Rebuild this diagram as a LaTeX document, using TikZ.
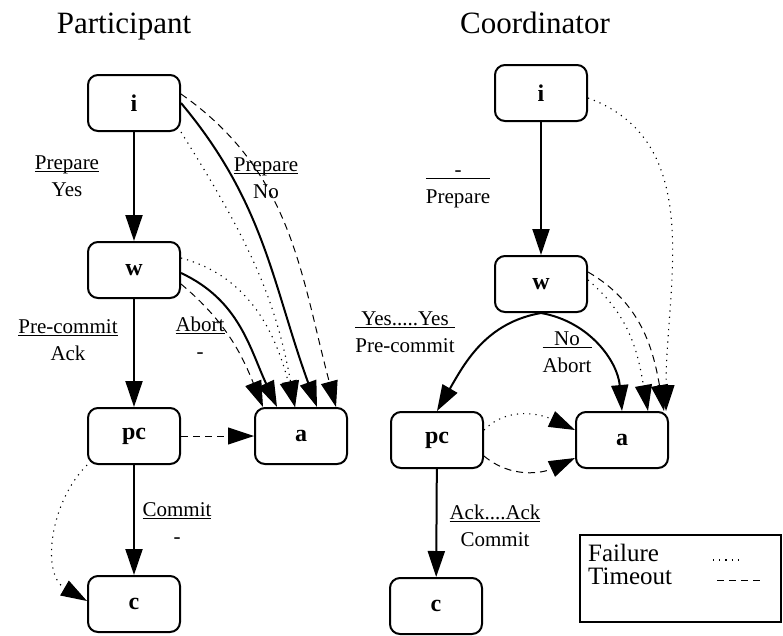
\documentclass[tikz,border=0pt]{standalone}
\usepackage{fontspec}
\setmainfont{Liberation Serif}
\usetikzlibrary{arrows.meta}

\setlength{\arrayrulewidth}{1pt}
% transition label: input over output
\newcommand{\trans}[2]{\begin{tabular}{@{}c@{}}#1\\[-6pt]\hline\rule{0pt}{25pt}#2\end{tabular}}

\tikzset{
  state/.style={draw, line width=2pt, rounded corners=10pt, minimum width=92pt,
    minimum height=56pt, font=\fontsize{24}{28}\selectfont\bfseries},
  move/.style={line width=2pt, ->},
  failure/.style={line width=1.1pt, dash pattern=on 1.2pt off 5pt},
  timeout/.style={line width=1pt, dash pattern=on 7pt off 5pt},
  lbl/.style={font=\fontsize{21}{25}\selectfont, inner sep=0pt},
  title/.style={font=\fontsize{31}{36}\selectfont, inner sep=0pt},
  legend/.style={font=\fontsize{25}{29}\selectfont, inner sep=0pt}
}

\begin{document}
\begin{tikzpicture}[x=1pt, y=1pt, >={Triangle[length=26pt,width=17pt]}]
  \useasboundingbox (0,0) rectangle (783,-635);

  % Titles
  \node[title, anchor=base] (ptitle) at (124,-33) {Participant};
  \node[title, anchor=base] (ctitle) at (535,-33) {Coordinator};

  % Participant states
  \node[state] (Pi)  at (134,-103) {i};
  \node[state] (Pw)  at (134,-270) {w};
  \node[state] (Ppc) at (134,-436) {pc};
  \node[state] (Pa)  at (301,-436) {a};
  \node[state] (Pc)  at (134,-604) {c};

  % Coordinator states
  \node[state] (Ci)  at (541,-93)  {i};
  \node[state] (Cw)  at (541,-284) {w};
  \node[state] (Cpc) at (437,-440) {pc};
  \node[state] (Ca)  at (622,-440) {a};
  \node[state] (Cc)  at (436,-606) {c};

  % Participant transitions
  \draw[move] (Pi) -- (Pw);
  \draw[move] (Pw) -- (Ppc);
  \draw[move] (Ppc) -- (Pc);
  \draw[move] (Pi.east) to[out=-50,in=110] ([xshift=16pt]Pa.north);
  \draw[move] ([yshift=-3pt]Pw.east) to[out=-25,in=115] ([xshift=-24pt]Pa.north);

  \draw[timeout,->] ([yshift=9pt]Pi.east) to[out=-35,in=105] ([xshift=35pt]Pa.north);
  \draw[timeout,->] ([yshift=-14pt]Pw.east) to[out=-40,in=112] ([xshift=-38pt]Pa.north);
  \draw[timeout,->] (Ppc) -- (Pa);

  \draw[failure,->] (Pi.south east) to[out=-58,in=100] ([xshift=-6pt]Pa.north);
  \draw[failure,->] ([yshift=12pt]Pw.east) to[out=-15,in=105] ([xshift=-6pt]Pa.north);
  \draw[failure,->] (Ppc.south west) to[out=225,in=150] ([yshift=3pt]Pc.west);

  % Participant labels
  \node[lbl] (pyes)    at (67,-178)  {\trans{Prepare\hspace{12pt}}{Yes}};
  \node[lbl] (pno)     at (266,-180) {\trans{Prepare\hspace{12pt}}{No}};
  \node[lbl] (pack)    at (68,-342)  {\trans{Pre-commit\hspace{12pt}}{Ack}};
  \node[lbl] (pabort)  at (200,-340) {\trans{Abort}{-}};
  \node[lbl] (pcommit) at (177,-525) {\trans{Commit\hspace{4pt}}{-}};

  % Coordinator transitions
  \draw[move] (Ci) -- (Cw);
  \draw[move] (Cw.south) to[out=190,in=60] (Cpc.north);
  \draw[move] (Cw.south) to[out=-10,in=95] (Ca.north);
  \draw[move] (Cpc) -- (Cc);

  \draw[timeout,->] ([yshift=12pt]Cw.east) to[out=-30,in=100] ([xshift=42pt]Ca.north);
  \draw[timeout,->] ([yshift=-16pt]Cpc.east) to[out=-40,in=-155] ([yshift=-18pt]Ca.west);

  \draw[failure,->] ([yshift=4pt]Cw.east) to[out=-40,in=100] ([xshift=26pt]Ca.north);
  \draw[failure,->] ([yshift=-5pt]Ci.east) to[out=-20,in=90] ([xshift=44pt]Ca.north);
  \draw[failure,->] ([yshift=10pt]Cpc.east) to[out=45,in=155] ([yshift=10pt]Ca.west);

  % Coordinator labels
  \node[lbl] (cprep)   at (458,-185) {\trans{-}{Prepare\hspace{12pt}}};
  \node[lbl] (cyes)    at (405,-334) {\trans{Yes.....Yes\hspace{8pt}}{Pre-commit}};
  \node[lbl] (cno)     at (567,-354) {\trans{No}{Abort}};
  \node[lbl] (cack)    at (495,-528) {\trans{Ack....Ack\hspace{10pt}}{Commit}};

  % Legend
  \draw[line width=1.5pt] (580,-535) rectangle (781,-622);
  \node[legend, anchor=base west] (lfail) at (588,-561) {Failure};
  \node[legend, anchor=base west] (ltime) at (588,-584) {Timeout};
  \draw[failure] (713,-560) -- (742,-560);
  \draw[timeout] (717,-580) -- (760,-580);

\end{tikzpicture}
\end{document}
